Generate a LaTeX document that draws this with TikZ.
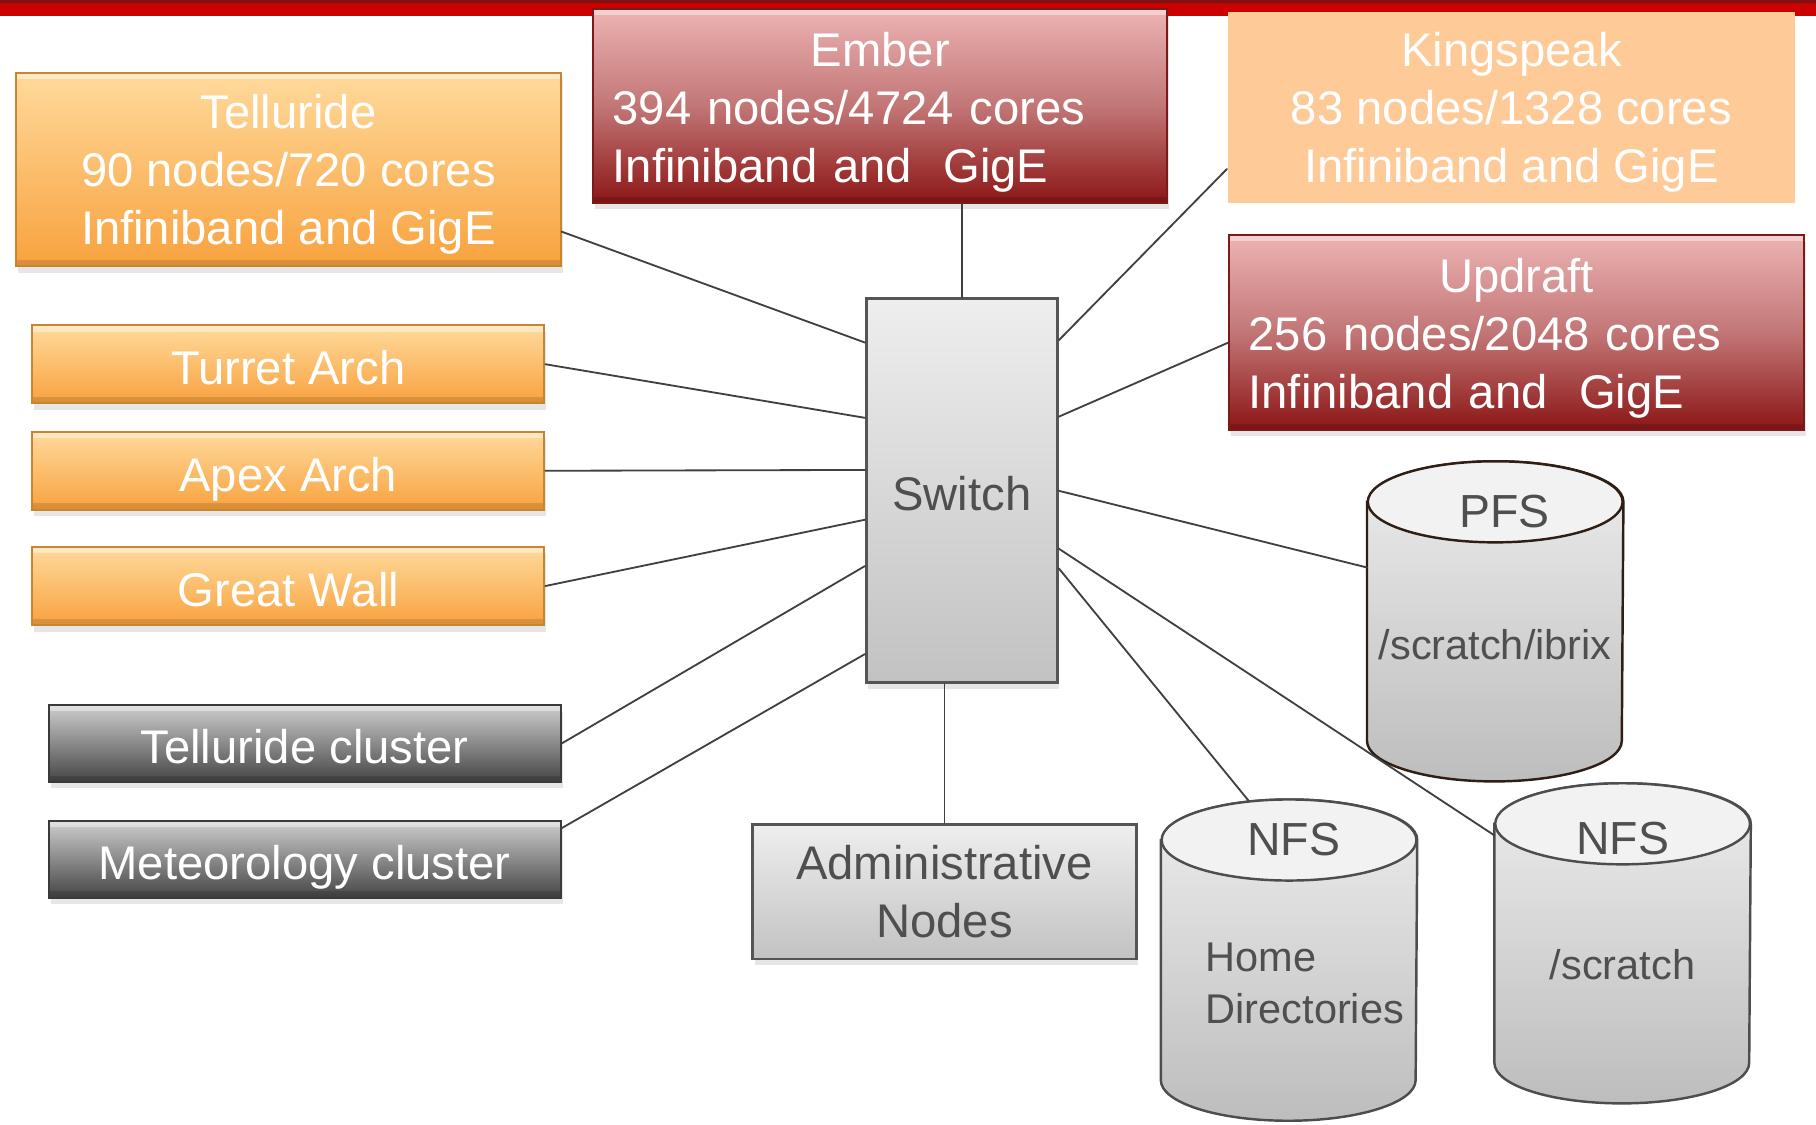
\documentclass[tikz,border=0pt]{standalone}
\usepackage{fontspec}
\setmainfont{Liberation Sans}
\usepackage{tikz}
\usetikzlibrary{shadows}
\usepackage{xcolor}
\definecolor{barred}{HTML}{CC0000}
\definecolor{bardark}{HTML}{7D1212}
\definecolor{orangetop}{HTML}{FFDA9C}
\definecolor{orangebot}{HTML}{F8A23E}
\definecolor{orangeedge}{HTML}{C8842F}
\definecolor{redtop}{HTML}{EDB3B3}
\definecolor{redmid}{HTML}{C27676}
\definecolor{redbot}{HTML}{8C1616}
\definecolor{rededge}{HTML}{7A1A1A}
\definecolor{darktop}{HTML}{CDCDCD}
\definecolor{darkbot}{HTML}{454545}
\definecolor{darkedge}{HTML}{3A3A3A}
\definecolor{peach}{HTML}{FECA98}
\definecolor{greytop}{HTML}{EEEEEE}
\definecolor{greybot}{HTML}{C2C2C2}
\definecolor{greyedge}{HTML}{555555}
\definecolor{labelgrey}{HTML}{4F4F4F}
\definecolor{wirecol}{HTML}{404040}
\definecolor{diskcap}{HTML}{F2F2F2}
\definecolor{disktop}{HTML}{EDEDED}
\definecolor{diskbot}{HTML}{BDBDBD}
\definecolor{pfsedge}{HTML}{2E1E14}
\definecolor{diskedge}{HTML}{4D4D4D}

\begin{document}
\begin{tikzpicture}[line cap=round,
  hosttext/.style={rectangle,inner sep=0pt,text=white,align=center,font=\fontsize{11.6}{14.2}\selectfont},
  flatbase/.style={text depth=0pt},
  oneline/.style={text height=0.35cm},
  shadowed/.style={drop shadow={shadow xshift=0.5pt,shadow yshift=-1.6pt,opacity=0.2}},
  bevel/.style={path picture={
    \draw[white,opacity=0.4,line width=3pt] (path picture bounding box.north west) -- (path picture bounding box.north east);
    \draw[black,opacity=0.12,line width=3pt] (path picture bounding box.south west) -- (path picture bounding box.south east);}},
  orangehost/.style={hosttext,flatbase,shadowed,bevel,draw=orangeedge,line width=0.5pt,top color=orangetop,bottom color=orangebot},
  redhost/.style={hosttext,text height=0.40cm,shadowed,bevel,draw=rededge,line width=0.5pt,top color=redtop,bottom color=redbot,middle color=redmid,align=left,inner xsep=0.17cm},
  darkhost/.style={hosttext,flatbase,shadowed,bevel,draw=darkedge,line width=0.5pt,top color=darktop,bottom color=darkbot},
  peachhost/.style={hosttext,flatbase,fill=peach},
  greybox/.style={hosttext,flatbase,shadowed,text=labelgrey,draw=greyedge,line width=0.7pt,top color=greytop,bottom color=greybot},
  diskbody/.style={rectangle,inner sep=0pt,minimum width=2.2cm},
  disktitle/.style={inner sep=0pt,text=labelgrey,font=\fontsize{11.4}{13.6}\selectfont},
  disklabel/.style={inner sep=0pt,text=labelgrey,font=\fontsize{10.2}{12.8}\selectfont},
  wire/.style={draw=wirecol,line width=0.45pt}]
\useasboundingbox (0,0) rectangle (15.68,-9.71);
\fill[barred] (0,0) rectangle (15.68,-0.14);
\fill[bardark] (0,0) rectangle (15.68,-0.03);

% compute clusters
\node[orangehost,minimum width=4.70cm,minimum height=1.67cm] (telluride) at (2.49,-1.465) {Telluride\\90 nodes/720 cores\\Infiniband and GigE};
\node[redhost,text width=4.62cm,minimum height=1.67cm] (ember) at (7.60,-0.915) {\makebox[\linewidth]{Ember}\\394 nodes/4724 cores\\Infiniband and\ \ GigE};
\node[peachhost,minimum width=4.90cm,minimum height=1.65cm] (kingspeak) at (13.05,-0.925) {Kingspeak\\83 nodes/1328 cores\\Infiniband and GigE};
\node[redhost,text width=4.63cm,minimum height=1.68cm] (updraft) at (13.095,-2.87) {\makebox[\linewidth]{Updraft}\\256 nodes/2048 cores\\Infiniband and\ \ GigE};
\node[orangehost,oneline,minimum width=4.42cm,minimum height=0.67cm] (turret) at (2.49,-3.145) {Turret Arch};
\node[orangehost,oneline,minimum width=4.42cm,minimum height=0.67cm] (apex) at (2.49,-4.065) {Apex Arch};
\node[orangehost,oneline,minimum width=4.42cm,minimum height=0.68cm] (greatwall) at (2.49,-5.06) {Great Wall};
\node[darkhost,oneline,minimum width=4.42cm,minimum height=0.66cm] (tcluster) at (2.63,-6.42) {Telluride cluster};
\node[darkhost,oneline,minimum width=4.42cm,minimum height=0.66cm] (mcluster) at (2.63,-7.42) {Meteorology cluster};

% switch and admin
\node[greybox,oneline,minimum width=1.65cm,minimum height=3.31cm] (sw) at (8.305,-4.235) {Switch};
\node[greybox,minimum width=3.31cm,minimum height=1.16cm] (admin) at (8.155,-7.70) {Administrative\\Nodes};

% storage
\node[diskbody,minimum height=2.05cm] (pfs) at (12.91,-5.365) {};
\node[diskbody,minimum height=2.06cm] (nfshome) at (11.13,-8.29) {};
\node[diskbody,minimum height=2.05cm] (nfsscratch) at (14.01,-8.145) {};
\foreach \d/\c in {pfs/pfsedge,nfshome/diskedge,nfsscratch/diskedge} {
  \draw[draw=\c,line width=0.6pt,top color=disktop,bottom color=diskbot]
    (\d.north west) -- (\d.south west) arc[start angle=180,end angle=360,x radius=1.1cm,y radius=0.35cm]
    -- (\d.north east) arc[start angle=0,end angle=180,x radius=1.1cm,y radius=0.35cm] -- cycle;
  \draw[draw=\c,line width=0.6pt,fill=diskcap] (\d.north) ellipse[x radius=1.1cm,y radius=0.35cm];
}
\node[disktitle] (pfstitle) at ([xshift=0.08cm,yshift=-0.08cm]pfs.north) {PFS};
\node[disklabel] (pfslabel) at ([yshift=-0.2cm]pfs.center) {/scratch/ibrix};
\node[disktitle] (nfshometitle) at ([xshift=0.04cm]nfshome.north) {NFS};
\node[disklabel,align=left,anchor=west] (nfshomelabel) at ([xshift=0.38cm,yshift=-0.205cm]nfshome.west) {Home\\Directories};
\node[disktitle] (nfsscratchtitle) at ([yshift=-0.13cm]nfsscratch.north) {NFS};
\node[disklabel] (nfsscratchlabel) at ([yshift=-0.185cm]nfsscratch.center) {/scratch};

% links to the switch
\draw[wire] ([yshift=-0.535cm]telluride.east) -- ([yshift=-0.39cm]sw.north west);
\draw[wire] (turret.east) -- ([yshift=-1.04cm]sw.north west);
\draw[wire] (apex.east) -- ([yshift=-1.49cm]sw.north west);
\draw[wire] (greatwall.east) -- ([yshift=-1.92cm]sw.north west);
\draw[wire] (tcluster.east) -- ([yshift=-2.32cm]sw.north west);
\draw[wire] ([yshift=-0.07cm]mcluster.north east) -- ([yshift=-3.08cm]sw.north west);
\draw[wire] (sw.north) -- (sw.north |- ember.south);
\draw[wire] ([yshift=-0.535cm]kingspeak.west) -- ([yshift=-0.37cm]sw.north east);
\draw[wire] ([yshift=-0.09cm]updraft.west) -- ([yshift=-1.03cm]sw.north east);
\draw[wire] ([yshift=-1.67cm]sw.north east) -- ([yshift=0.465cm]pfs.west);
\draw[wire] ([yshift=-2.17cm]sw.north east) -- ([yshift=-0.10cm]nfsscratch.north west);
\draw[wire] ([yshift=-2.34cm]sw.north east) -- ([shift={(-0.35cm,0.34cm)}]nfshome.north);
\draw[wire] (admin.north) -- (admin.north |- sw.south);
\end{tikzpicture}
\end{document}
